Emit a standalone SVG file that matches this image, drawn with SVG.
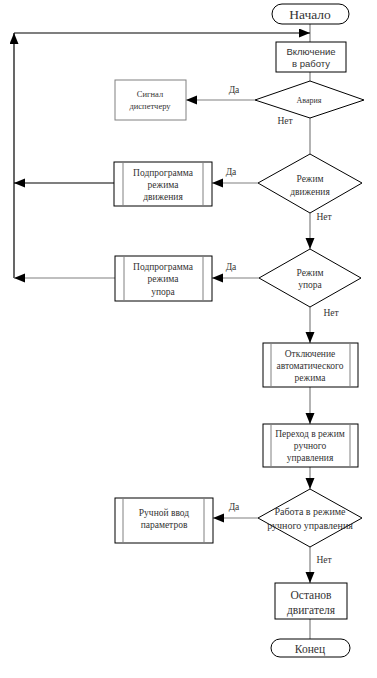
<svg xmlns="http://www.w3.org/2000/svg" width="377" height="678" viewBox="0 0 377 678">
<style>
.bx{fill:#fff;stroke:#000;stroke-width:1}
.gb{fill:#fff;stroke:#808080;stroke-width:1}
.in{stroke:#808080;stroke-width:1}
.t{font-family:"Liberation Serif",serif;font-size:9.5px;fill:#333;text-anchor:middle}
.s{font-family:"Liberation Sans",sans-serif;font-size:9.5px;fill:#333;text-anchor:middle}
.c{fill:none;stroke:#808080;stroke-width:1.2}
.k{fill:none;stroke:#000;stroke-width:1.2}
</style>
<defs>
<marker id="a" markerUnits="userSpaceOnUse" markerWidth="12" markerHeight="10" refX="11" refY="4.5" orient="auto">
<path d="M0,0 L11,4.5 L0,9 Z" fill="#000"/>
</marker>
</defs>
<rect width="377" height="678" fill="#fff"/>
<g id="connectors">
<line class="c" x1="310" y1="24" x2="310" y2="42"/>
<line class="k" x1="14" y1="33" x2="310" y2="33" marker-end="url(#a)"/>
<line class="k" x1="14" y1="278" x2="14" y2="33" marker-end="url(#a)"/>
<line class="c" x1="310" y1="72" x2="310" y2="81"/>
<line class="c" x1="255" y1="100" x2="186" y2="100" marker-end="url(#a)"/>
<line class="c" x1="310" y1="118" x2="310" y2="154"/>
<line class="c" x1="258" y1="183" x2="212" y2="183" marker-end="url(#a)"/>
<line class="k" x1="114" y1="183" x2="14" y2="183" marker-end="url(#a)"/>
<line class="c" x1="310" y1="213" x2="310" y2="249" marker-end="url(#a)"/>
<line class="c" x1="259" y1="278" x2="212" y2="278" marker-end="url(#a)"/>
<line class="c" x1="115" y1="278" x2="14" y2="278" marker-end="url(#a)"/>
<line class="c" x1="310" y1="307" x2="310" y2="343" marker-end="url(#a)"/>
<line class="c" x1="310" y1="387" x2="310" y2="424" marker-end="url(#a)"/>
<line class="c" x1="310" y1="467" x2="310" y2="489" marker-end="url(#a)"/>
<line class="c" x1="258" y1="518" x2="213" y2="518" marker-end="url(#a)"/>
<line class="c" x1="310" y1="547" x2="310" y2="583" marker-end="url(#a)"/>
<line class="c" x1="310" y1="619" x2="310" y2="639"/>
<text class="t" x="234" y="93">Да</text>
<text class="t" x="285" y="124">Нет</text>
<text class="t" x="231" y="175">Да</text>
<text class="t" x="324" y="220">Нет</text>
<text class="t" x="231" y="270">Да</text>
<text class="t" x="331" y="316">Нет</text>
<text class="t" x="234" y="510">Да</text>
<text class="t" x="324" y="563">Нет</text>
</g>
<g id="start">
<rect class="bx" x="272" y="4" width="77" height="20" rx="10"/>
<text class="t" x="310" y="19" style="font-size:13.5px">Начало</text>
</g>
<g id="power-on">
<rect class="bx" x="276" y="42" width="70" height="30"/>
<text class="s" x="311" y="55">Включение</text>
<text class="s" x="311" y="67">в работу</text>
</g>
<g id="alarm">
<polygon class="bx" points="310,81 364,100 310,118 255,100"/>
<text class="t" x="309" y="103" style="font-size:8px">Авария</text>
</g>
<g id="dispatcher">
<rect class="gb" x="115" y="80" width="71" height="40"/>
<text class="t" x="150" y="97" style="font-size:8.5px">Сигнал</text>
<text class="t" x="150" y="109" style="font-size:8.5px">диспетчеру</text>
</g>
<g id="motion-mode">
<polygon class="bx" points="310,154 362,183 310,213 258,183"/>
<text class="t" x="310" y="182">Режим</text>
<text class="t" x="310" y="195">движения</text>
</g>
<g id="motion-sub">
<rect class="bx" x="114" y="162" width="98" height="44"/>
<line class="in" x1="123" y1="162" x2="123" y2="206"/>
<line class="in" x1="203" y1="162" x2="203" y2="206"/>
<text class="t" x="163" y="176">Подпрограмма</text>
<text class="t" x="163" y="188">режима</text>
<text class="t" x="163" y="200">движения</text>
</g>
<g id="stop-mode">
<polygon class="bx" points="310,249 361,278 310,307 259,278"/>
<text class="t" x="310" y="276">Режим</text>
<text class="t" x="310" y="288">упора</text>
</g>
<g id="stop-sub">
<rect class="bx" x="115" y="256" width="97" height="45"/>
<line class="in" x1="124" y1="256" x2="124" y2="301"/>
<line class="in" x1="203" y1="256" x2="203" y2="301"/>
<text class="t" x="163" y="270">Подпрограмма</text>
<text class="t" x="163" y="282">режима</text>
<text class="t" x="163" y="295">упора</text>
</g>
<g id="auto-off">
<rect class="bx" x="263" y="343" width="95" height="44"/>
<line class="in" x1="271" y1="343" x2="271" y2="387"/>
<line class="in" x1="350" y1="343" x2="350" y2="387"/>
<text class="t" x="310" y="357">Отключение</text>
<text class="t" x="310" y="369">автоматического</text>
<text class="t" x="310" y="381">режима</text>
</g>
<g id="manual-switch">
<rect class="bx" x="263" y="424" width="95" height="43"/>
<line class="in" x1="271" y1="424" x2="271" y2="467"/>
<line class="in" x1="350" y1="424" x2="350" y2="467"/>
<text class="t" x="310" y="437">Переход в режим</text>
<text class="t" x="310" y="449">ручного</text>
<text class="t" x="310" y="461">управления</text>
</g>
<g id="manual-mode">
<polygon class="bx" points="310,489 362,518 310,547 258,518"/>
<text class="t" x="310" y="515" style="font-size:10px">Работа в режиме</text>
<text class="t" x="310" y="529" style="font-size:10px">ручного управления</text>
</g>
<g id="manual-input">
<rect class="bx" x="115" y="498" width="98" height="45"/>
<line class="in" x1="123" y1="498" x2="123" y2="543"/>
<line class="in" x1="204" y1="498" x2="204" y2="543"/>
<text class="t" x="164" y="516">Ручной ввод</text>
<text class="t" x="164" y="528">параметров</text>
</g>
<g id="engine-stop">
<rect class="bx" x="275" y="583" width="72" height="36"/>
<text class="t" x="311" y="599" style="font-size:11.5px">Останов</text>
<text class="t" x="311" y="614" style="font-size:11.5px">двигателя</text>
</g>
<g id="end">
<rect class="bx" x="271" y="639" width="79" height="18" rx="9"/>
<text class="t" x="310" y="653" style="font-size:11.5px">Конец</text>
</g>
</svg>
